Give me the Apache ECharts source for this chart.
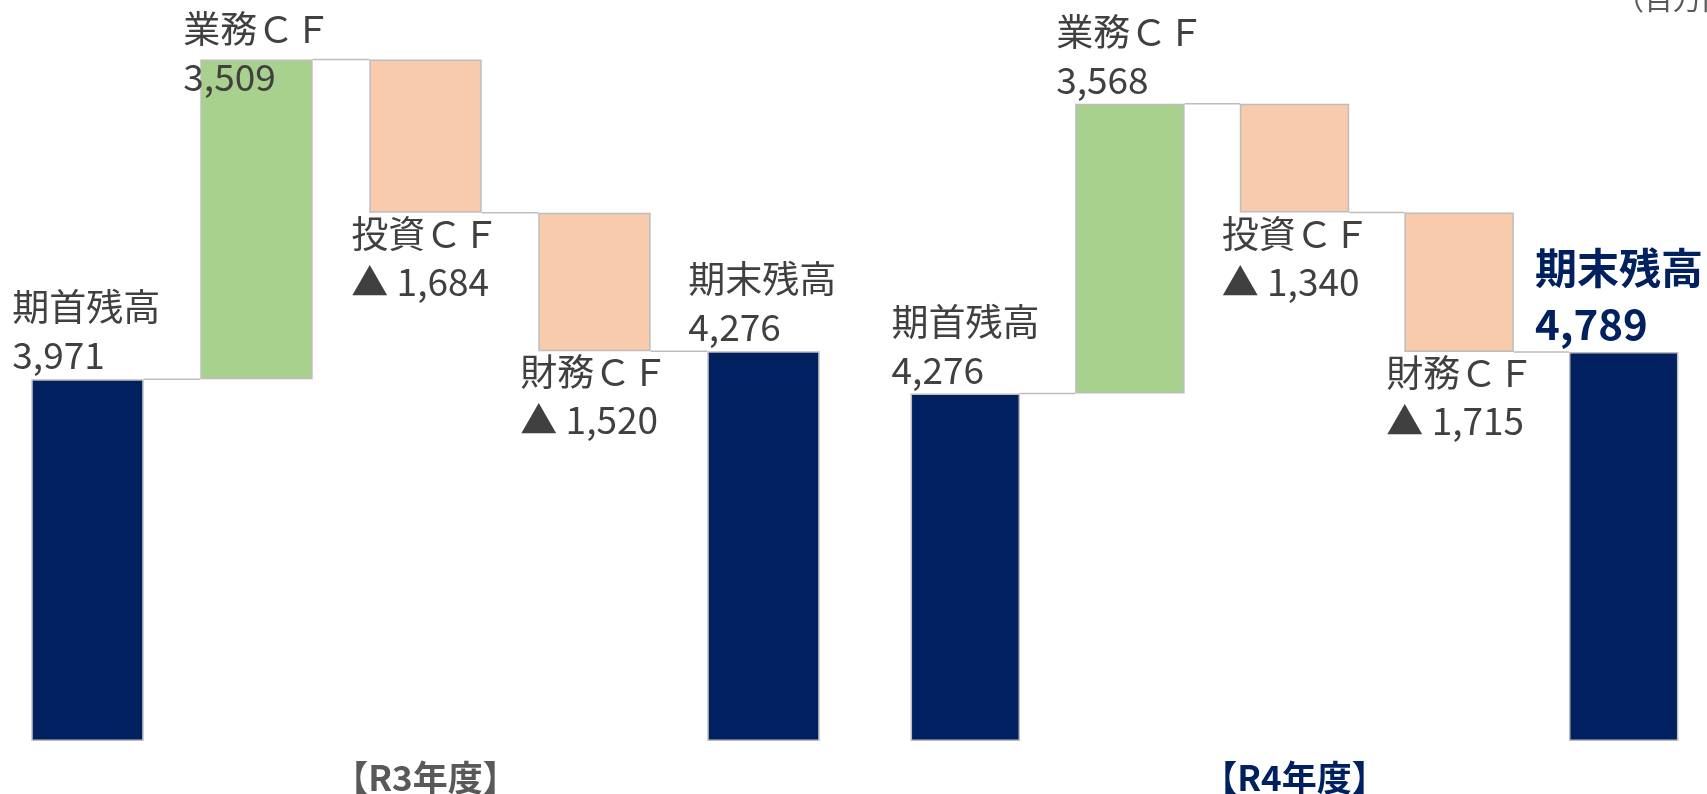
<!DOCTYPE html>
<html><head><meta charset="utf-8">
<script src="https://cdn.jsdelivr.net/npm/echarts@6/dist/echarts.min.js"></script>
<style>html,body{margin:0;padding:0;background:#fff}#c{width:1707px;height:794px}</style>
</head><body><div id="c"></div>
<script>
// ---- data ----
const categories = ['期首残高', '業務ＣＦ', '投資ＣＦ', '財務ＣＦ', '期末残高'];
const kinds = ['total', 'delta', 'delta', 'delta', 'total'];
const r3Values = [3971, 3509, -1684, -1520, 4276];
const r4Values = [4276, 3568, -1340, -1715, 4789];
const panelTitles = ['【R3年度】', '【R4年度】'];
const unitLabel = '（百万円）';
const yMax = 8000;

// ---- styling ----
const FONT = '"Noto Sans CJK JP", "Noto Sans", sans-serif';
const NAVY = '#002060', GREEN = '#A9D18E', PEACH = '#F8CBAD', EDGE = '#BDBDBD', TXT = '#404040';
const BAR_RATIO = 0.665;
const grids = [
  { left: 3, width: 845, top: 12, bottom: 53 },
  { left: 883, width: 823, top: 91, bottom: 53 }
];

function fmt(v) {
  const s = Math.abs(v).toString().replace(/\B(?=(\d{3})+(?!\d))/g, ',');
  return v < 0 ? '▲ ' + s : s;
}

function waterfall(values) {
  let run = 0;
  const base = [], size = [], levels = [];
  values.forEach((v, i) => {
    if (kinds[i] === 'total') { base.push(0); size.push(v); run = v; }
    else if (v >= 0) { base.push(run); size.push(v); run += v; }
    else { run += v; base.push(run); size.push(-v); }
    levels.push(run);
  });
  return { base, size, levels };
}

const rich = {
  n: { fontFamily: FONT, fontSize: 37, lineHeight: 48, color: TXT },
  v: { fontFamily: FONT, fontSize: 37, lineHeight: 48, color: TXT },
  nb: { fontFamily: FONT, fontSize: 42, lineHeight: 56, color: NAVY, fontWeight: 'bold' },
  vb: { fontFamily: FONT, fontSize: 42, lineHeight: 56, color: NAVY, fontWeight: 'bold' }
};

function labelFor(panel, i, v) {
  const emph = panel === 1 && i === categories.length - 1;
  const text = emph ? '{nb|' + categories[i] + '}\n{vb|' + fmt(v) + '}'
                    : '{n|' + categories[i] + '}\n{v|' + fmt(v) + '}';
  const lab = { show: true, formatter: () => text, rich: rich, align: 'left' };
  if (v < 0) {
    Object.assign(lab, { position: [0, '100%'], verticalAlign: 'top', offset: [-18, -3] });
  } else if (panel === 0 && i === 1) {
    Object.assign(lab, { position: [0, 0], verticalAlign: 'top', offset: [-17, -54] });
  } else {
    Object.assign(lab, { position: [0, 0], verticalAlign: 'bottom', offset: [emph ? -34 : -19, 0] });
  }
  return lab;
}

function colorFor(i, v) {
  if (kinds[i] === 'total') return NAVY;
  return v >= 0 ? GREEN : PEACH;
}

const series = [];
[r3Values, r4Values].forEach((vals, k) => {
  const wf = waterfall(vals);
  series.push({
    type: 'bar', xAxisIndex: k, yAxisIndex: k, stack: 'wf' + k, silent: true,
    barWidth: (BAR_RATIO * 100) + '%',
    itemStyle: { color: 'rgba(0,0,0,0)' },
    data: wf.base
  });
  series.push({
    type: 'bar', xAxisIndex: k, yAxisIndex: k, stack: 'wf' + k,
    barWidth: (BAR_RATIO * 100) + '%',
    data: wf.size.map((s, i) => ({
      value: s,
      itemStyle: { color: colorFor(i, vals[i]), borderColor: EDGE, borderWidth: 1.5 },
      label: labelFor(k, i, vals[i])
    })),
    z: 3
  });
  series.push({
    type: 'custom', xAxisIndex: k, yAxisIndex: k, silent: true, z: 2,
    data: wf.levels.slice(0, -1).map((lv, i) => [i, lv]),
    renderItem: (params, api) => {
      const p = api.coord([api.value(0), api.value(1)]);
      const band = api.size([1, 0])[0];
      const bw = band * BAR_RATIO;
      return {
        type: 'line',
        shape: { x1: p[0] + bw / 2, y1: p[1], x2: p[0] + band - bw / 2, y2: p[1] },
        style: { stroke: EDGE, lineWidth: 1.5 }
      };
    }
  });
});

const option = {
  animation: false,
  backgroundColor: '#fff',
  grid: grids,
  xAxis: grids.map((g, k) => ({ type: 'category', gridIndex: k, data: categories, show: false })),
  yAxis: grids.map((g, k) => ({ type: 'value', gridIndex: k, min: 0, max: yMax, show: false })),
  series: series,
  graphic: [
    { type: 'text', x: grids[0].left + grids[0].width / 2, y: 760,
      style: { text: panelTitles[0], align: 'center', verticalAlign: 'top', fill: '#595959',
               font: 'bold 35px ' + FONT } },
    { type: 'text', x: grids[1].left + grids[1].width / 2, y: 760,
      style: { text: panelTitles[1], align: 'center', verticalAlign: 'top', fill: NAVY,
               font: 'bold 35px ' + FONT } },
    { type: 'text', x: 1615, y: -1,
      style: { text: unitLabel, align: 'left', verticalAlign: 'middle', fill: '#595959',
               font: '29px ' + FONT } }
  ]
};

const chart = echarts.init(document.getElementById('c'), null, { renderer: 'canvas' });
chart.setOption(option);
</script>
</body></html>
